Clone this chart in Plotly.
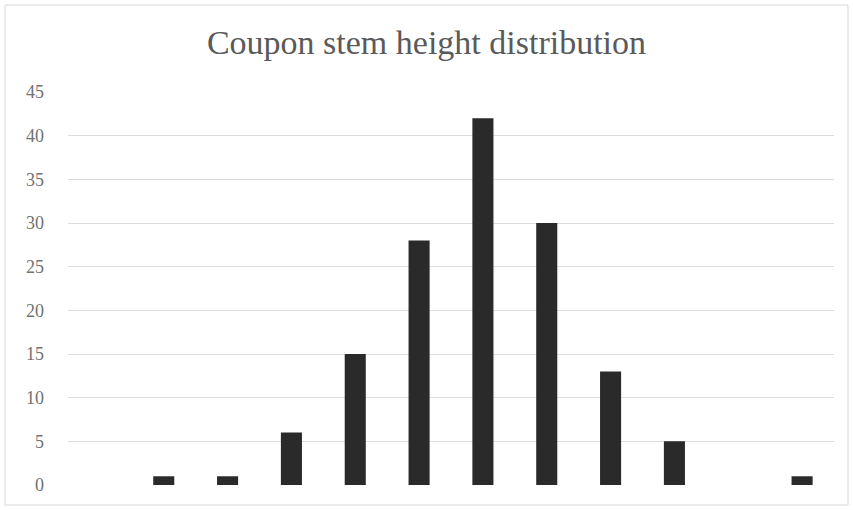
import plotly.graph_objects as go

# Histogram bins (12 height classes) and coupon counts per bin
bins = [f"Bin {i}" for i in range(1, 13)]
counts = [0, 1, 1, 6, 15, 28, 42, 30, 13, 5, 0, 1]
y_ticks = [0, 5, 10, 15, 20, 25, 30, 35, 40, 45]

serif = "Palatino Linotype, Book Antiqua, Palatino, Liberation Serif, serif"

fig = go.Figure(
    go.Bar(
        x=bins,
        y=counts,
        marker=dict(color="#2a2a2a", line=dict(width=0)),
        hoverinfo="x+y",
    )
)

fig.update_layout(
    width=853,
    height=510,
    margin=dict(l=68, r=19, t=92, b=25),
    paper_bgcolor="white",
    plot_bgcolor="white",
    bargap=0.67,
    showlegend=False,
    title=dict(
        text="Coupon stem height distribution",
        x=0.5,
        xanchor="center",
        y=0.918,
        yanchor="middle",
        font=dict(family=serif, size=34, color="#5a5a5a"),
    ),
    font=dict(family=serif, color="#6f6f6f"),
)

fig.update_xaxes(
    showticklabels=False,
    showgrid=False,
    showline=False,
    zeroline=False,
    ticks="",
)
fig.update_yaxes(
    range=[0, 45],
    tickvals=y_ticks,
    ticktext=[str(v) for v in y_ticks],
    tickfont=dict(family=serif, size=18, color="#727272"),
    showgrid=True,
    gridcolor="#dcdcdc",
    gridwidth=1,
    zeroline=False,
    showline=False,
    ticks="",
    ticklabelstandoff=23,
)

# light frame around the chart area
fig.add_shape(
    type="rect",
    xref="paper", yref="paper",
    x0=-63 / 766, x1=1 + 14 / 766,
    y0=-20 / 393, y1=1 + 87 / 393,
    line=dict(color="#d8d8d8", width=1),
    layer="below",
)

fig.write_html("out.html")
